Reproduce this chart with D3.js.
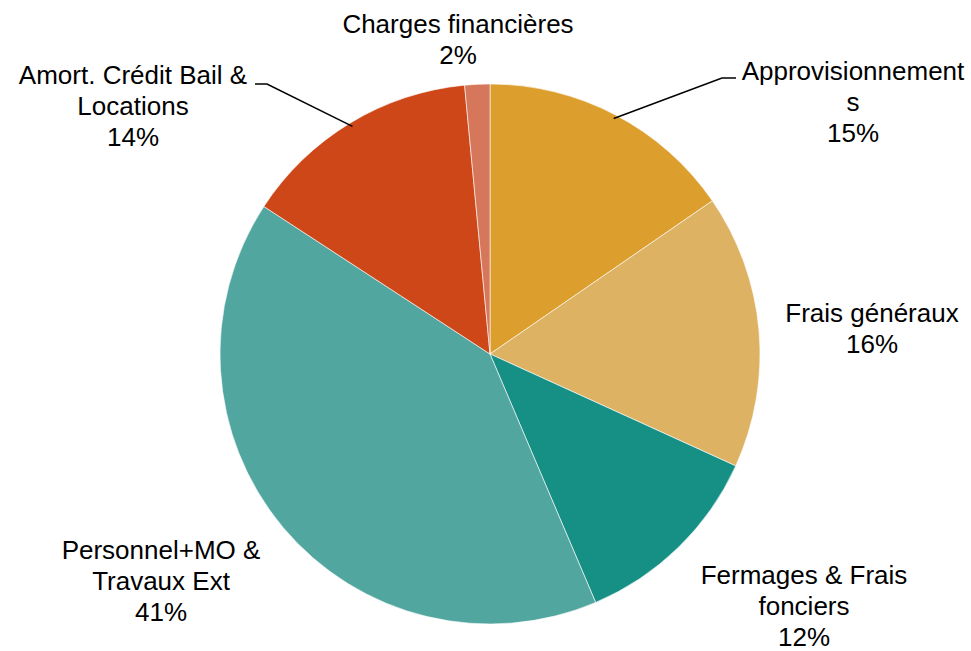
<!DOCTYPE html>
<html>
<head>
<meta charset="utf-8">
<script src="https://cdn.jsdelivr.net/npm/d3@7"></script>
<style>
  html, body { margin: 0; padding: 0; background: #ffffff; }
  svg { display: block; }
</style>
</head>
<body>
<script>
// ---- Data ----
const categories = [
  "Approvisionnements",
  "Frais généraux",
  "Fermages & Frais fonciers",
  "Personnel+MO & Travaux Ext",
  "Amort. Crédit Bail & Locations",
  "Charges financières"
];
const values = [15.4, 16.4, 11.8, 40.6, 14.3, 1.5];
const percentLabels = ["15%", "16%", "12%", "41%", "14%", "2%"];
const labelLines = [
  ["Approvisionnement", "s"],
  ["Frais généraux"],
  ["Fermages & Frais", "fonciers"],
  ["Personnel+MO &", "Travaux Ext"],
  ["Amort. Crédit Bail &", "Locations"],
  ["Charges financières"]
];

// ---- Styles / layout ----
const colors = ["#DC9E2D", "#DDB263", "#168F85", "#52A6A0", "#CE4719", "#D6765A"];
const W = 971, H = 651;
const cx = 490, cy = 354, R = 270;
const fontSize = 26, lineH = 31;
// label anchor: centre x, first baseline y
const labelPos = [
  [853, 80], [872, 322], [804, 584], [161, 559], [133, 84], [458, 33]
];
// leader lines (text end -> elbow), endpoint computed on the slice
const leaders = {
  0: { start: [736, 78], elbow: [722, 78], frac: 0.985 },
  4: { start: [255, 84], elbow: [267, 84], frac: 0.985 }
};

const svg = d3.select("body").append("svg")
  .attr("width", W).attr("height", H);

const pie = d3.pie().sort(null).value(d => d).startAngle(0).endAngle(2 * Math.PI);
const arcs = pie(values);
const arc = d3.arc().innerRadius(0).outerRadius(R);

const g = svg.append("g").attr("transform", `translate(${cx},${cy})`);
g.selectAll("path.slice")
  .data(arcs)
  .enter().append("path")
  .attr("class", "slice")
  .attr("d", arc)
  .attr("fill", (d, i) => colors[i])
  .attr("stroke", "#ffffff")
  .attr("stroke-width", 0.6);

// leader lines
Object.keys(leaders).forEach(k => {
  const a = arcs[+k];
  const L = leaders[k];
  const mid = (a.startAngle + a.endAngle) / 2;
  const r = R * L.frac;
  const ex = cx + r * Math.sin(mid), ey = cy - r * Math.cos(mid);
  svg.append("polyline")
    .attr("points", `${L.start[0]},${L.start[1]} ${L.elbow[0]},${L.elbow[1]} ${ex},${ey}`)
    .attr("fill", "none")
    .attr("stroke", "#000000")
    .attr("stroke-width", 1.5);
});

// labels
arcs.forEach((a, i) => {
  const lines = labelLines[i].concat([percentLabels[i]]);
  const t = svg.append("text")
    .attr("text-anchor", "middle")
    .attr("font-family", "'Liberation Sans', Arial, sans-serif")
    .attr("font-size", fontSize)
    .attr("fill", "#000000");
  lines.forEach((ln, j) => {
    t.append("tspan")
      .attr("x", labelPos[i][0])
      .attr("y", labelPos[i][1] + j * lineH)
      .text(ln);
  });
});
</script>
</body>
</html>
